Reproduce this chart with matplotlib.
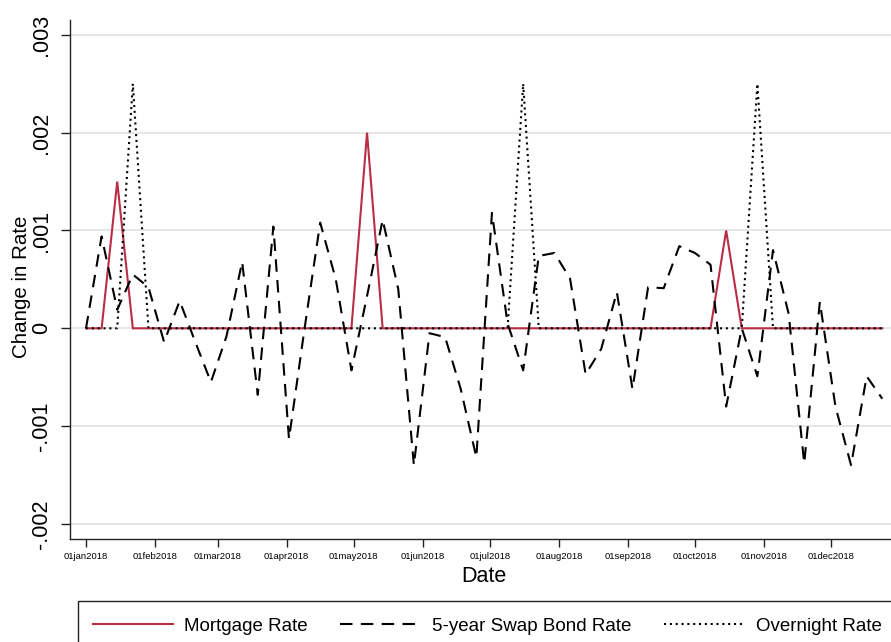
import matplotlib
matplotlib.use("Agg")
import matplotlib.pyplot as plt
import matplotlib.dates as mdates
import numpy as np
import datetime as dt
from matplotlib.lines import Line2D
from matplotlib.patches import Rectangle

plt.rcParams['font.family'] = ['Liberation Sans', 'DejaVu Sans']

# ---- data ----
start_date = dt.date(2018, 1, 1)
n_weeks = 52
dates = [start_date + dt.timedelta(days=7 * i) for i in range(n_weeks)]

mortgage = [0, 0, 0.0015, 0, 0, 0, 0, 0, 0, 0,
            0, 0, 0, 0, 0, 0, 0, 0, 0.002, 0,
            0, 0, 0, 0, 0, 0, 0, 0, 0, 0,
            0, 0, 0, 0, 0, 0, 0, 0, 0, 0,
            0, 0.001, 0, 0, 0, 0, 0, 0, 0, 0,
            0, 0]

swap = [0.0, 0.00094, 0.00019, 0.00055, 0.00042, -0.00014, 0.00028, -0.00014, -0.00055, -0.00008,
        0.00068, -0.00068, 0.00104, -0.00113, 0.0, 0.00108, 0.0005, -0.00043, 0.00033, 0.00111,
        0.0004, -0.0014, -0.00005, -0.00009, -0.00062, -0.00132, 0.00118, 0.00005, -0.00043, 0.00074,
        0.00077, 0.00051, -0.00047, -0.00021, 0.00037, -0.00062, 0.00042, 0.00041, 0.00084, 0.00077,
        0.00065, -0.0008, 0.0, -0.00049, 0.0008, 0.00015, -0.00138, 0.00027, -0.0008, -0.0014,
        -0.00049, -0.00072]

overnight = [0, 0, 0, 0.0025, 0, 0, 0, 0, 0, 0,
             0, 0, 0, 0, 0, 0, 0, 0, 0, 0,
             0, 0, 0, 0, 0, 0, 0, 0, 0.0025, 0,
             0, 0, 0, 0, 0, 0, 0, 0, 0, 0,
             0, 0, 0, 0.0025, 0, 0, 0, 0, 0, 0,
             0, 0]

yticks = [-0.002, -0.001, 0, 0.001, 0.002, 0.003]
ytick_labels = ['-.002', '-.001', '0', '.001', '.002', '.003']
month_ticks = [dt.date(2018, m, 1) for m in range(1, 13)]
month_labels = ['01jan2018', '01feb2018', '01mar2018', '01apr2018', '01may2018', '01jun2018',
                '01jul2018', '01aug2018', '01sep2018', '01oct2018', '01nov2018', '01dec2018']

# ---- figure ----
W, H = 891, 642
fig = plt.figure(figsize=(W / 100, H / 100), dpi=100)
ax_left, ax_right, ax_top, ax_bottom = 70, 898, 20, 539
ax = fig.add_axes([ax_left / W, 1 - ax_bottom / H, (ax_right - ax_left) / W, (ax_bottom - ax_top) / H])

red = '#b92d45'
ax.plot(dates, mortgage, color=red, lw=1.5, zorder=3, solid_joinstyle='miter')
ax.plot(dates, swap, color='black', lw=1.5, linestyle=(0, (6, 4)), zorder=4)
ax.plot(dates, overnight, color='black', lw=1.5, linestyle=(0, (1, 1.8)), zorder=5)

x0 = mdates.date2num(start_date)
px_per_day = 2.2305
ax.set_xlim(x0 + (ax_left - 86) / px_per_day, x0 + (ax_right - 86) / px_per_day)
ax.set_ylim(-0.002154, 0.003152)

ax.set_yticks(yticks)
ax.set_yticklabels(ytick_labels, rotation=90, va='center', fontsize=15.5)
ax.set_xticks([mdates.date2num(d) for d in month_ticks])
ax.set_xticklabels(month_labels, fontsize=6.8)

ax.tick_params(axis='y', length=6.5, width=1.0, pad=6.5, color='#222222')
ax.tick_params(axis='x', length=5.8, width=1.0, pad=3.6, color='#222222')

ax.grid(axis='y', color='#e6e6ea', lw=1.4, zorder=0)
ax.set_axisbelow(True)
for s in ['top', 'right']:
    ax.spines[s].set_visible(False)
for s in ['left', 'bottom']:
    ax.spines[s].set_color('#222222')
    ax.spines[s].set_linewidth(1.0)

fig.text(22 / W, 1 - 287 / H, 'Change in Rate', rotation=90, ha='center', va='center', fontsize=14.8)
fig.text(484 / W, 1 - 576 / H, 'Date', ha='center', va='center', fontsize=15.5)

# legend box (extends past right edge as in reference)
fig.patches.append(Rectangle((78 / W, -0.05), 1.0, (1 - 601 / H) + 0.05, transform=fig.transFigure,
                             fill=False, edgecolor='#222222', lw=1.0))
handles = [Line2D([], [], color=red, lw=1.5),
           Line2D([], [], color='black', lw=1.5, linestyle=(0, (6, 4))),
           Line2D([], [], color='black', lw=1.5, linestyle=(0, (1, 1.8)))]
fig.legend(handles, ['Mortgage Rate', '5-year Swap Bond Rate', 'Overnight Rate'],
           loc='center left', bbox_to_anchor=(85 / W, 1 - 626 / H), ncol=3, frameon=False,
           fontsize=13.5, handlelength=4.3, handletextpad=0.6, columnspacing=1.72, borderaxespad=0)

fig.savefig('out.png', dpi=100)
